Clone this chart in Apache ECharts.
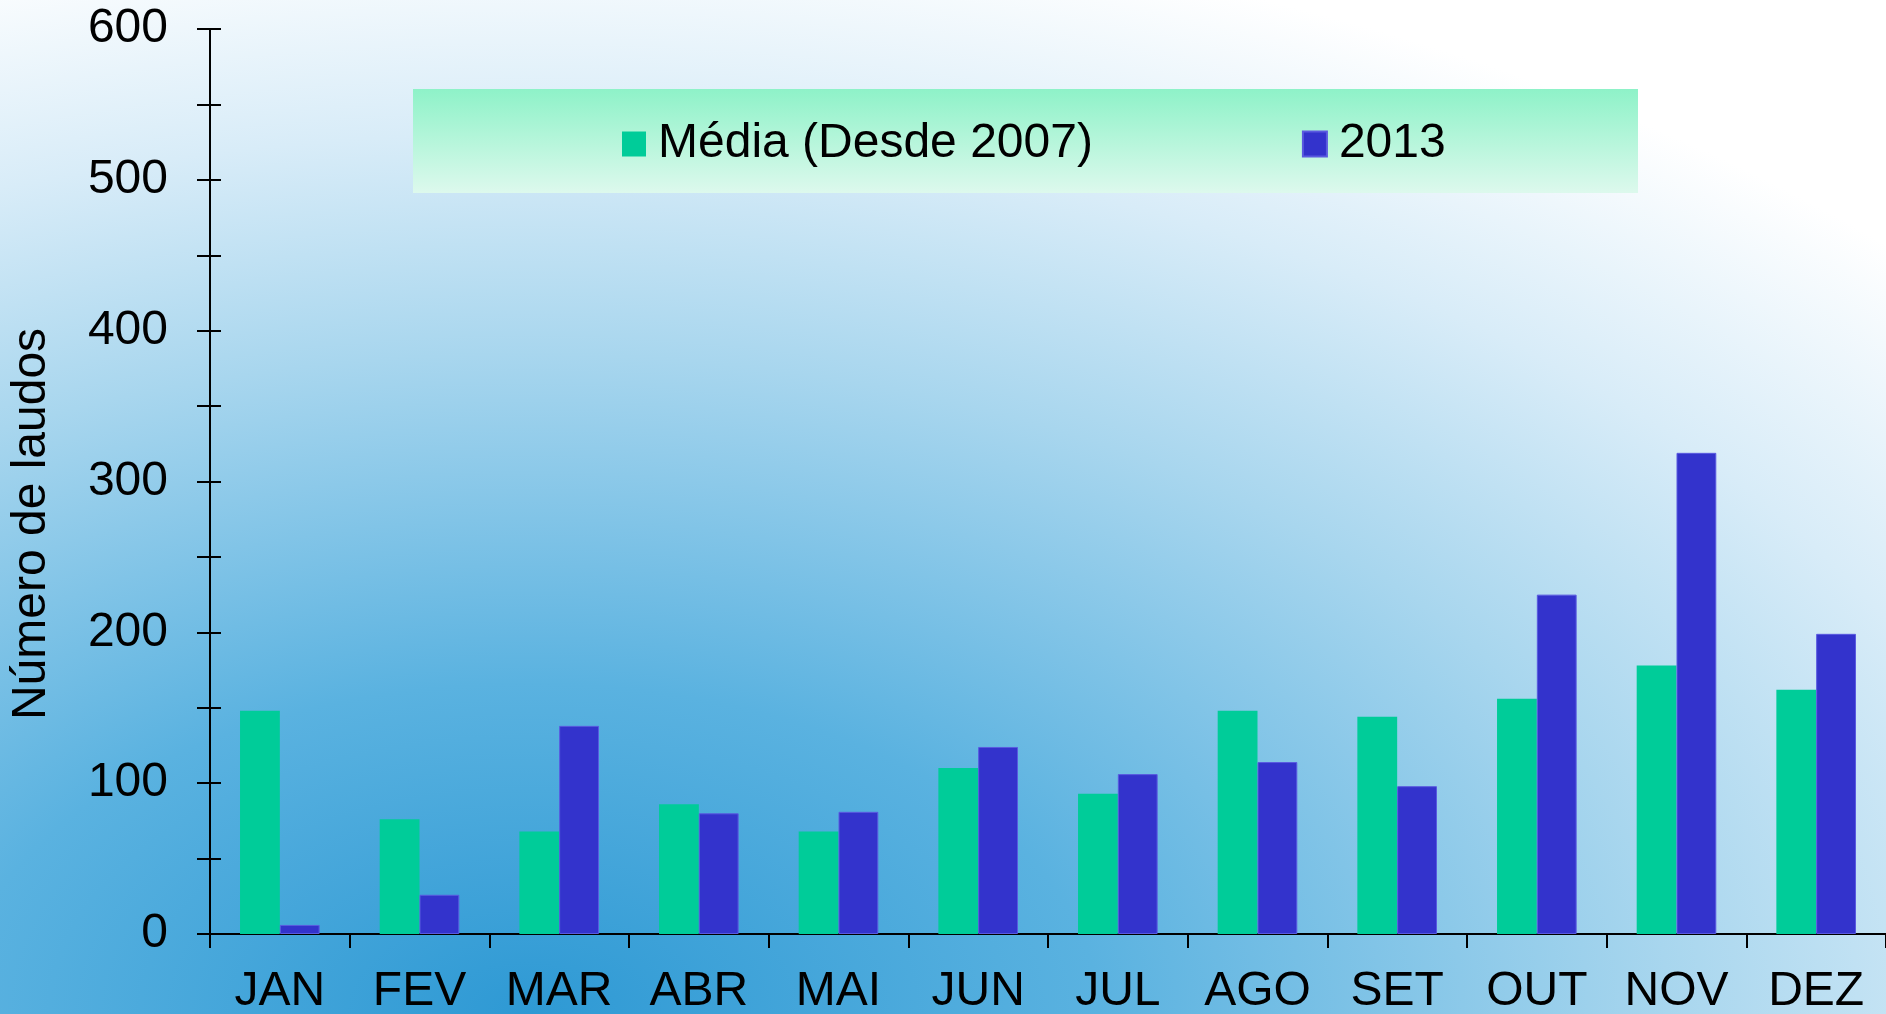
<!DOCTYPE html>
<html>
<head>
<meta charset="utf-8">
<script src="https://cdn.jsdelivr.net/npm/echarts@6/dist/echarts.min.js"></script>
<style>
  html, body { margin: 0; padding: 0; }
  #chart-wrapper {
    width: 1886px;
    height: 1014px;
    background: radial-gradient(ellipse 1900px 1100px at 28% 100%,
      #2e99d4 0%, #5ab2e0 30%, #a8d6ee 60%, #d8ecf8 80%, #ffffff 100%);
  }
</style>
</head>
<body>
<div id="chart-wrapper"></div>
<script>
const months = ["JAN", "FEV", "MAR", "ABR", "MAI", "JUN", "JUL", "AGO", "SET", "OUT", "NOV", "DEZ"];
const mediaValues = [148, 76, 68, 86, 68, 110, 93, 148, 144, 156, 178, 162];
const values2013 = [6, 26, 138, 80, 81, 124, 106, 114, 98, 225, 319, 199];
const seriesNames = ["Média (Desde 2007)", "2013"];
const yTitle = "Número de laudos";

const FONT = "Liberation Sans, Arial, sans-serif";

const chartDom = document.getElementById("chart-wrapper");
const chart = echarts.init(chartDom, null, { renderer: "canvas" });

const valueAxisBase = {
  type: "value",
  position: "left",
  min: 0,
  max: 600,
  interval: 50,
  splitLine: { show: false },
};

const option = {
  backgroundColor: "transparent",
  animation: false,
  grid: {
    left: 210,
    right: 0,
    top: 29,
    bottom: 80,
    containLabel: false,
    outerBoundsMode: "none",
  },
  legend: {
    left: 622,
    top: 120,
    padding: 0,
    itemWidth: 24,
    itemHeight: 25,
    itemGap: 209,
    icon: "rect",
    data: seriesNames,
    textStyle: {
      fontFamily: FONT,
      fontSize: 48,
      color: "#000",
      padding: [0, 0, 0, 7],
    },
  },
  graphic: [
    {
      type: "rect",
      z: -1,
      shape: { x: 413, y: 89, width: 1225, height: 104 },
      style: {
        fill: new echarts.graphic.LinearGradient(0, 0, 0, 1, [
          { offset: 0, color: "#8ef2c8" },
          { offset: 1, color: "#ddf9ed" },
        ]),
      },
    },
    {
      type: "text",
      x: 32,
      y: 524,
      rotation: Math.PI / 2,
      style: {
        text: yTitle,
        fontFamily: FONT,
        fontSize: 48,
        fill: "#000",
        align: "center",
        verticalAlign: "middle",
      },
    },
  ],
  xAxis: {
    type: "category",
    data: months,
    axisLine: { lineStyle: { color: "#000", width: 2 } },
    axisTick: { show: true, length: 14, lineStyle: { color: "#000", width: 2 } },
    axisLabel: {
      margin: 34,
      fontFamily: FONT,
      fontSize: 48,
      color: "#000",
    },
  },
  yAxis: [
    Object.assign({}, valueAxisBase, {
      axisLine: { show: true, lineStyle: { color: "#000", width: 2 } },
      axisTick: { show: true, length: 13, lineStyle: { color: "#000", width: 2 } },
      axisLabel: {
        margin: 42,
        fontFamily: FONT,
        fontSize: 48,
        color: "#000",
        formatter: (v) => (v % 100 === 0 ? String(v) : ""),
      },
    }),
    // same scale again, only to draw the inner half of the crossing ticks
    Object.assign({}, valueAxisBase, {
      axisLine: { show: false },
      axisTick: { show: true, inside: true, length: 11, lineStyle: { color: "#000", width: 2 } },
      axisLabel: { show: false },
    }),
  ],
  series: [
    {
      name: seriesNames[0],
      type: "bar",
      data: mediaValues,
      barGap: "0%",
      barCategoryGap: "43%",
      itemStyle: { color: "#00cc99" },
    },
    {
      name: seriesNames[1],
      type: "bar",
      data: values2013,
      barGap: "0%",
      barCategoryGap: "43%",
      itemStyle: { color: "#3333cc", borderColor: "#5a5ae0", borderWidth: 1 },
    },
  ],
};

chart.setOption(option);
</script>
</body>
</html>
